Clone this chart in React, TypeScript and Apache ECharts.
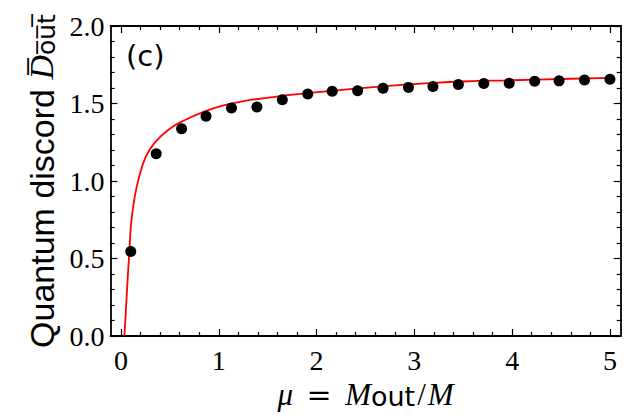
import React, { useEffect, useRef } from "react";
import * as echarts from "echarts";

// Measured dots (mu, discord)
const dotMu = [0.10, 0.36, 0.62, 0.87, 1.13, 1.39, 1.65, 1.91, 2.16, 2.42, 2.68, 2.94, 3.19, 3.45, 3.71, 3.97, 4.23, 4.48, 4.74, 5.00];
const dotD = [0.545, 1.176, 1.337, 1.418, 1.471, 1.477, 1.524, 1.561, 1.579, 1.582, 1.598, 1.604, 1.610, 1.623, 1.629, 1.631, 1.644, 1.646, 1.652, 1.657];

// Theory curve
const curveMu = [0.035, 0.054, 0.069, 0.086, 0.102, 0.137, 0.188, 0.256, 0.342, 0.479, 0.65, 0.872, 1.048, 1.268, 1.73, 2.073, 2.55, 3.16, 3.5, 4.0, 4.5, 5.0];
const curveD = [0, 0.206, 0.375, 0.545, 0.714, 0.883, 1.032, 1.159, 1.244, 1.328, 1.392, 1.452, 1.488, 1.517, 1.555, 1.576, 1.604, 1.631, 1.642, 1.65, 1.658, 1.665];

// Axis ticks
const xMajorTicks = [0, 1, 2, 3, 4, 5];
const xMinorTicks = [0.2, 0.4, 0.6, 0.8, 1.2, 1.4, 1.6, 1.8, 2.2, 2.4, 2.6, 2.8, 3.2, 3.4, 3.6, 3.8, 4.2, 4.4, 4.6, 4.8];
const xMin = -0.107;
const xMax = 5.11;
const yMin = 0;
const yMax = 2;
const yStep = 0.5;

const SERIF = '"Liberation Serif", "DejaVu Serif", serif';
const SANS = '"Liberation Sans", "DejaVu Sans", sans-serif';
const WSANS = '"DejaVu Sans", "Liberation Sans", sans-serif';

export default function App() {
  const ref = useRef<HTMLDivElement>(null);
  useEffect(() => {
    if (!ref.current) return;
    const chart = echarts.init(ref.current, null, { renderer: "svg" });
    const lineStyle = { color: "#000", width: 1.8 };
    const baseX = {
      type: "value",
      min: xMin,
      max: xMax,
      splitLine: { show: false },
    };
    const majorX = (pos: string, labels: boolean) => ({
      ...baseX,
      position: pos,
      axisLine: { show: true, onZero: false, lineStyle },
      axisTick: { show: true, inside: true, length: 7, customValues: xMajorTicks, lineStyle: { color: "#000", width: 1.2 } },
      axisLabel: labels
        ? { show: true, customValues: xMajorTicks, margin: 10, color: "#000", fontFamily: SERIF, fontSize: 28 }
        : { show: false },
    });
    const minorX = (pos: string) => ({
      ...baseX,
      position: pos,
      axisLine: { show: false, onZero: false },
      axisTick: { show: true, inside: true, length: 4, customValues: xMinorTicks, lineStyle: { color: "#000", width: 1.2 } },
      axisLabel: { show: false },
    });
    const yAx = (pos: string, labels: boolean) => ({
      type: "value",
      position: pos,
      min: yMin,
      max: yMax,
      interval: yStep,
      splitLine: { show: false },
      axisLine: { show: true, onZero: false, lineStyle },
      axisTick: { show: true, inside: true, length: 7, lineStyle: { color: "#000", width: 1.2 } },
      minorTick: { show: true, splitNumber: 5, length: 4, lineStyle: { color: "#000", width: 1.2 } },
      minorSplitLine: { show: false },
      axisLabel: labels
        ? { show: true, margin: 6, color: "#000", fontFamily: SERIF, fontSize: 28, formatter: (v: number) => v.toFixed(1) }
        : { show: false },
    });

    const xMain: any = majorX("bottom", true);
    xMain.name = "{i|μ}{eq|=}{i|M}{s|out}{r|/}{i|M}";
    xMain.nameLocation = "middle";
    xMain.nameGap = 43;
    xMain.nameTextStyle = {
      rich: {
        i: { fontFamily: SERIF, fontStyle: "italic", fontSize: 31, color: "#000" },
        eq: { fontFamily: '"DejaVu Serif", serif', fontSize: 30, color: "#000", width: 52, align: "center" },
        r: { fontFamily: SERIF, fontSize: 31, color: "#000", padding: [0, 2, 0, 2] },
        s: { fontFamily: WSANS, fontSize: 27, color: "#000", verticalAlign: "bottom" },
      },
    };

    const yMain: any = yAx("left", true);
    yMain.name = "{a|Quantum discord }{d|D\u0305}{s|o\u0305u\u0305t\u0305}";
    yMain.nameLocation = "middle";
    yMain.nameGap = 52;
    yMain.nameTextStyle = {
      rich: {
        a: { fontFamily: SANS, fontSize: 34, color: "#000" },
        d: { fontFamily: SERIF, fontStyle: "italic", fontSize: 34, color: "#000" },
        s: { fontFamily: WSANS, fontSize: 25, color: "#000", verticalAlign: "bottom" },
      },
    };

    chart.setOption({
      animation: false,
      backgroundColor: "#fff",
      grid: { left: 110.5, right: 19.3, top: 26, bottom: 74.3, containLabel: false },
      xAxis: [xMain, minorX("bottom"), majorX("top", false), minorX("top")],
      yAxis: [yMain, yAx("right", false)],
      graphic: [
        {
          type: "text",
          left: 126,
          top: 41,
          style: { text: "(c)", font: `29px ${WSANS}`, fill: "#000" },
        },
      ],
      series: [
        {
          type: "line",
          xAxisIndex: 0,
          yAxisIndex: 0,
          data: curveMu.map((m, i) => [m, curveD[i]]),
          smooth: 0.5,
          showSymbol: false,
          symbol: "none",
          lineStyle: { color: "#ff0000", width: 1.8 },
          z: 2,
        },
        {
          type: "scatter",
          xAxisIndex: 0,
          yAxisIndex: 0,
          data: dotMu.map((m, i) => [m, dotD[i]]),
          symbol: "circle",
          symbolSize: 11,
          itemStyle: { color: "#000", opacity: 1 },
          z: 3,
        },
      ],
    });
    return () => chart.dispose();
  }, []);
  return (
    <div
      ref={ref}
      style={{ position: "fixed", left: 0, top: 0, width: 640, height: 415, background: "#fff" }}
    />
  );
}
